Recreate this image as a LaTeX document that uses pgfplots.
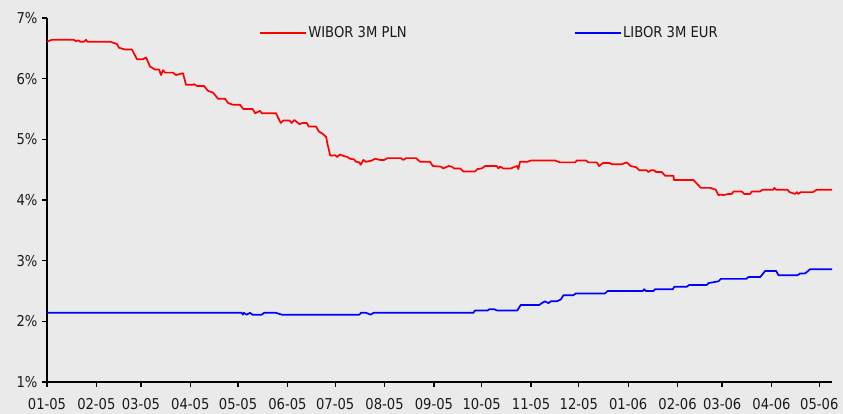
\documentclass[border=0pt]{standalone}
\usepackage{pgfplots}
\pgfplotsset{compat=1.18}
\usepackage{fontspec}
\setmainfont{DejaVu Sans}[FakeStretch=0.88]
\definecolor{bg}{HTML}{EAEAEA}
\definecolor{txt}{HTML}{1A1A1A}
\definecolor{wib}{RGB}{255,0,0}
\definecolor{lib}{RGB}{0,0,255}
\begin{document}
\begin{tikzpicture}
\fill[bg] (0,0) rectangle (843bp,414bp);
\begin{axis}[
  at={(47bp,32bp)}, anchor=south west,
  scale only axis, width=785bp, height=364bp,
  xmin=0, xmax=493, ymin=1, ymax=7,
  axis lines=left, axis line style={-, line width=1.3bp, black},
  xtick={0,31,59,90,120,151,181,212,243,273,304,334,365,396,424,455,485},
  xticklabels={01-05,02-05,03-05,04-05,05-05,06-05,07-05,08-05,09-05,10-05,11-05,12-05,01-06,02-06,03-06,04-06,05-06},
  ytick={1,2,3,4,5,6,7},
  yticklabels={1\%,2\%,3\%,4\%,5\%,6\%,7\%},
  tick align=outside, major tick length=4.5bp,
  tick style={line width=1.3bp, black},
  minor tick num=0,
  tick label style={font=\fontsize{15}{18}\selectfont, text=txt},
  xticklabel style={yshift=-8bp},
  yticklabel style={xshift=-1.5bp},
  /pgf/number format/assume math mode=true,
  legend columns=2,
  legend cell align=left,
  legend image code/.code={\draw[#1, line width=1.7bp] (0bp,0bp) -- (46bp,0bp);},
  legend style={at={(0.27,0.959)}, anchor=west, draw=none, fill=none, inner sep=0pt,
    column sep=0pt, font=\fontsize{15}{18}\selectfont, text=txt,
    nodes={inner sep=1.5bp}},
  line join=round,
]
\addplot[wib, line width=1.7bp] coordinates {
(0,6.61) (3,6.64) (17,6.64) (18,6.62) (20,6.63) (20.7,6.61) (23.2,6.61) (24.5,6.64) (25.3,6.61)
(39.6,6.61) (44,6.57) (45.2,6.51) (49,6.48) (53.4,6.48) (56.5,6.32) (60.3,6.32) (62.2,6.35)
(64.7,6.20) (67.8,6.15) (70.4,6.15) (71.6,6.06) (72.9,6.14) (74.1,6.10) (79.1,6.10) (81,6.06)
(85.4,6.09) (87.3,5.90) (91.7,5.90) (92.3,5.91) (94.2,5.88) (98.6,5.88) (101.1,5.80) (104.3,5.77)
(107.4,5.67) (111.8,5.67) (113.7,5.60) (116.8,5.57) (121.2,5.57) (123.3,5.50) (129.2,5.50)
(130.7,5.43) (133.8,5.47) (134.9,5.43) (143.8,5.43) (146.8,5.27) (148.4,5.31) (152.2,5.31)
(153.7,5.27) (155.3,5.32) (158.5,5.25) (160.6,5.27) (163.1,5.27) (164.4,5.21) (169,5.21)
(170.7,5.13) (173.2,5.09) (175.3,5.04) (176.1,4.93) (177.8,4.74) (178.8,4.73) (180.9,4.74)
(182.2,4.71) (184,4.75) (185.7,4.73) (188.6,4.71) (190.3,4.68) (192.8,4.67) (194.1,4.63)
(196.2,4.62) (197,4.58) (198.7,4.66) (200.2,4.63) (204,4.65) (206,4.68) (209.2,4.66) (211.7,4.66)
(213.8,4.69) (222.2,4.69) (223.8,4.66) (225.5,4.69) (231.8,4.69) (234.3,4.63) (240.6,4.63)
(242.3,4.56) (247.3,4.55) (248.9,4.52) (252.1,4.56) (254.2,4.55) (255.7,4.52) (259.4,4.52)
(261.5,4.47) (268.8,4.47) (270.3,4.51) (273,4.52) (275.1,4.56) (282.5,4.56) (283.5,4.52)
(284.5,4.55) (286.6,4.52) (291.3,4.52) (294,4.55) (295.4,4.56) (296,4.51) (297.1,4.63)
(301.7,4.63) (303.8,4.65) (319.1,4.65) (322.2,4.62) (331.7,4.62) (332.7,4.65) (338.6,4.65)
(340,4.62) (345.3,4.62) (346.7,4.56) (349.1,4.61) (353.2,4.61) (354.7,4.59) (361,4.59)
(364.1,4.62) (366.6,4.56) (370,4.54) (372,4.49) (376.7,4.49) (377.7,4.46) (379.2,4.49)
(381.3,4.49) (382.5,4.46) (386.1,4.46) (388.2,4.40) (393.4,4.40) (393.8,4.33) (406,4.33)
(410.6,4.20) (416.5,4.20) (420,4.17) (421.7,4.08) (423.2,4.09) (424.8,4.08) (428,4.10)
(430.1,4.10) (431.1,4.14) (436.4,4.14) (437.8,4.10) (441.6,4.10) (442.6,4.14) (447.8,4.14)
(449.3,4.17) (456.2,4.17) (456.8,4.20) (457.9,4.17) (465,4.17) (466.3,4.13) (469.8,4.10)
(470.9,4.13) (471.9,4.10) (473.4,4.13) (481,4.13) (483.5,4.17) (493,4.17)
};
\addlegendentry{\makebox[264bp][l]{WIBOR 3M PLN}}
\addplot[lib, line width=1.7bp] coordinates {
(0,2.14) (122.3,2.14) (123,2.11) (123.7,2.14) (125.4,2.11) (127.5,2.14) (129,2.11) (134.9,2.11)
(136.3,2.14) (143.8,2.14) (147.4,2.11) (196.2,2.11) (197.2,2.14) (200.4,2.14) (203.3,2.11)
(205,2.14) (267.8,2.14) (268.8,2.18) (276.8,2.18) (277.8,2.20) (280.8,2.20) (282.5,2.18)
(295.4,2.18) (297.5,2.27) (309.2,2.27) (310.7,2.30) (312.8,2.33) (314.9,2.30) (316.4,2.33)
(320.2,2.33) (322.7,2.36) (324.3,2.43) (330.6,2.43) (332.1,2.46) (350.5,2.46) (352,2.50)
(374.2,2.50) (375,2.53) (376.1,2.50) (380.8,2.50) (381.9,2.53) (393,2.53) (394,2.57)
(401.8,2.57) (403.3,2.60) (414.4,2.60) (415.4,2.63) (421.7,2.66) (423.2,2.70) (439.1,2.70)
(440.5,2.73) (447.9,2.73) (451,2.83) (457.9,2.83) (459.4,2.76) (471.3,2.76) (473,2.79)
(476.1,2.79) (479.3,2.86) (493,2.86)
};
\addlegendentry{LIBOR 3M EUR}
\end{axis}
\pgfresetboundingbox
\useasboundingbox (0,0) rectangle (843bp,414bp);
\end{tikzpicture}
\end{document}
